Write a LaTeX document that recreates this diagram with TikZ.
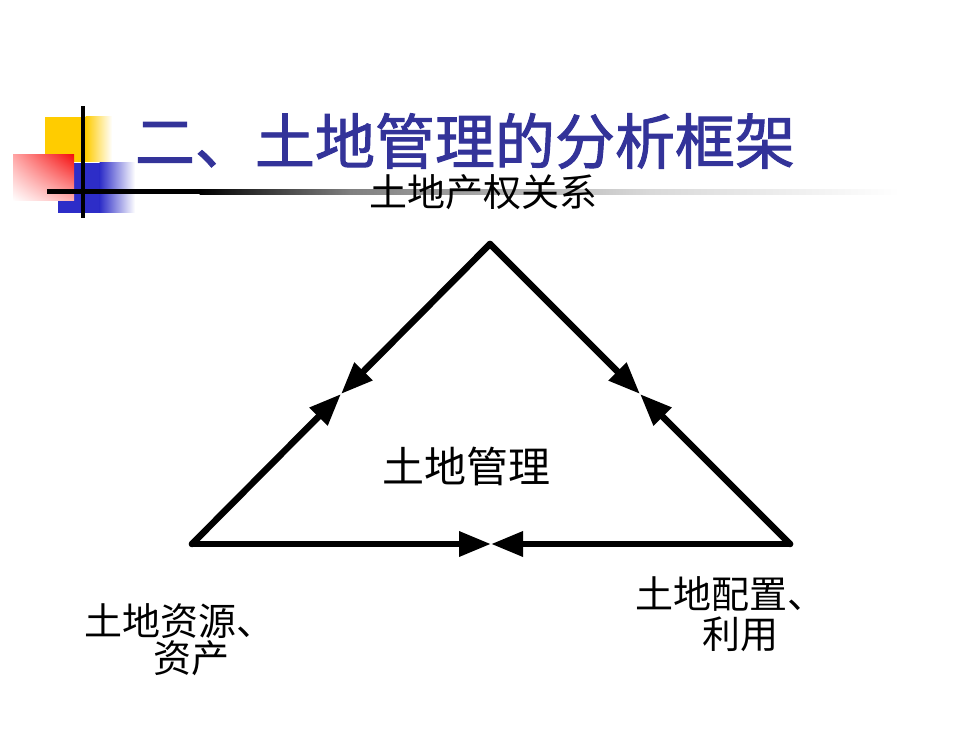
\documentclass[tikz,border=0pt]{standalone}
\usepackage{fontspec}
\newfontfamily\cjk{Noto Sans CJK SC}
\newfontfamily\cjktitle[FakeBold=1.6]{Noto Sans CJK SC}
\usetikzlibrary{arrows.meta,shadings}
\definecolor{titleblue}{RGB}{51,51,153}
\definecolor{decoyellow}{RGB}{255,204,0}
\definecolor{decoblue}{RGB}{45,45,200}
\definecolor{decored}{RGB}{245,15,15}
\begin{document}
\begin{tikzpicture}[x=1pt,y=-1pt,
  side/.style={line width=6.5pt, line cap=round, -{Triangle[length=32pt,width=24pt]}},
  lab/.style={inner sep=0pt, font=\cjk\fontsize{38pt}{40pt}\selectfont}]
\useasboundingbox (0,0) rectangle (980,735);
% decoration
\fill[decoyellow] (45,117) rectangle (86,162);
\shade[left color=decoyellow, right color=white] (85.5,117) rectangle (112,162);
\fill[decoblue] (58,163) rectangle (100,213);
\shade[left color=decoblue, right color=white] (99.5,163) rectangle (135,213);
\shade[upper right=decored, upper left=red!35!white, lower right=red!30!white, lower left=white] (13,155) rectangle (74,201);
\fill[black] (47,189.5) rectangle (200,194.5);
\shade[left color=black, right color=black!50] (199.5,189.5) rectangle (350,194.5);
\shade[left color=black!50, right color=black!15] (349.5,189.5) rectangle (650,194.5);
\shade[left color=black!15, right color=white] (649.5,189.5) rectangle (900,194.5);
\fill[black] (81,106) rectangle (85,218);
% title
\node[inner sep=0pt, text=titleblue, font=\cjktitle\fontsize{60pt}{62pt}\selectfont] (title) at (465,141) {二、土地管理的分析框架};
% triangle
\coordinate (top) at (490,244);
\coordinate (bl) at (192,544);
\coordinate (br) at (790,544);
\coordinate (ml) at (341,394);
\coordinate (mr) at (640,394);
\coordinate (mb) at (491,544);
\draw[side] (top) -- (ml);
\draw[side] (bl) -- (ml);
\draw[side] (top) -- (mr);
\draw[side] (br) -- (mr);
\draw[side] (bl) -- (mb);
\draw[side] (br) -- (mb);
% labels
\node[lab] (chanquan) at (483,192) {土地产权关系};
\node[lab, font=\cjk\fontsize{42pt}{44pt}\selectfont] (guanli) at (466,466) {土地管理};
\node[lab, anchor=west] (ziyuan1) at (84,621) {土地资源、};
\node[lab] (ziyuan2) at (191,658) {资产};
\node[lab, anchor=west] (peizhi1) at (635,594) {土地配置、};
\node[lab] (peizhi2) at (740,634) {利用};
\end{tikzpicture}
\end{document}
